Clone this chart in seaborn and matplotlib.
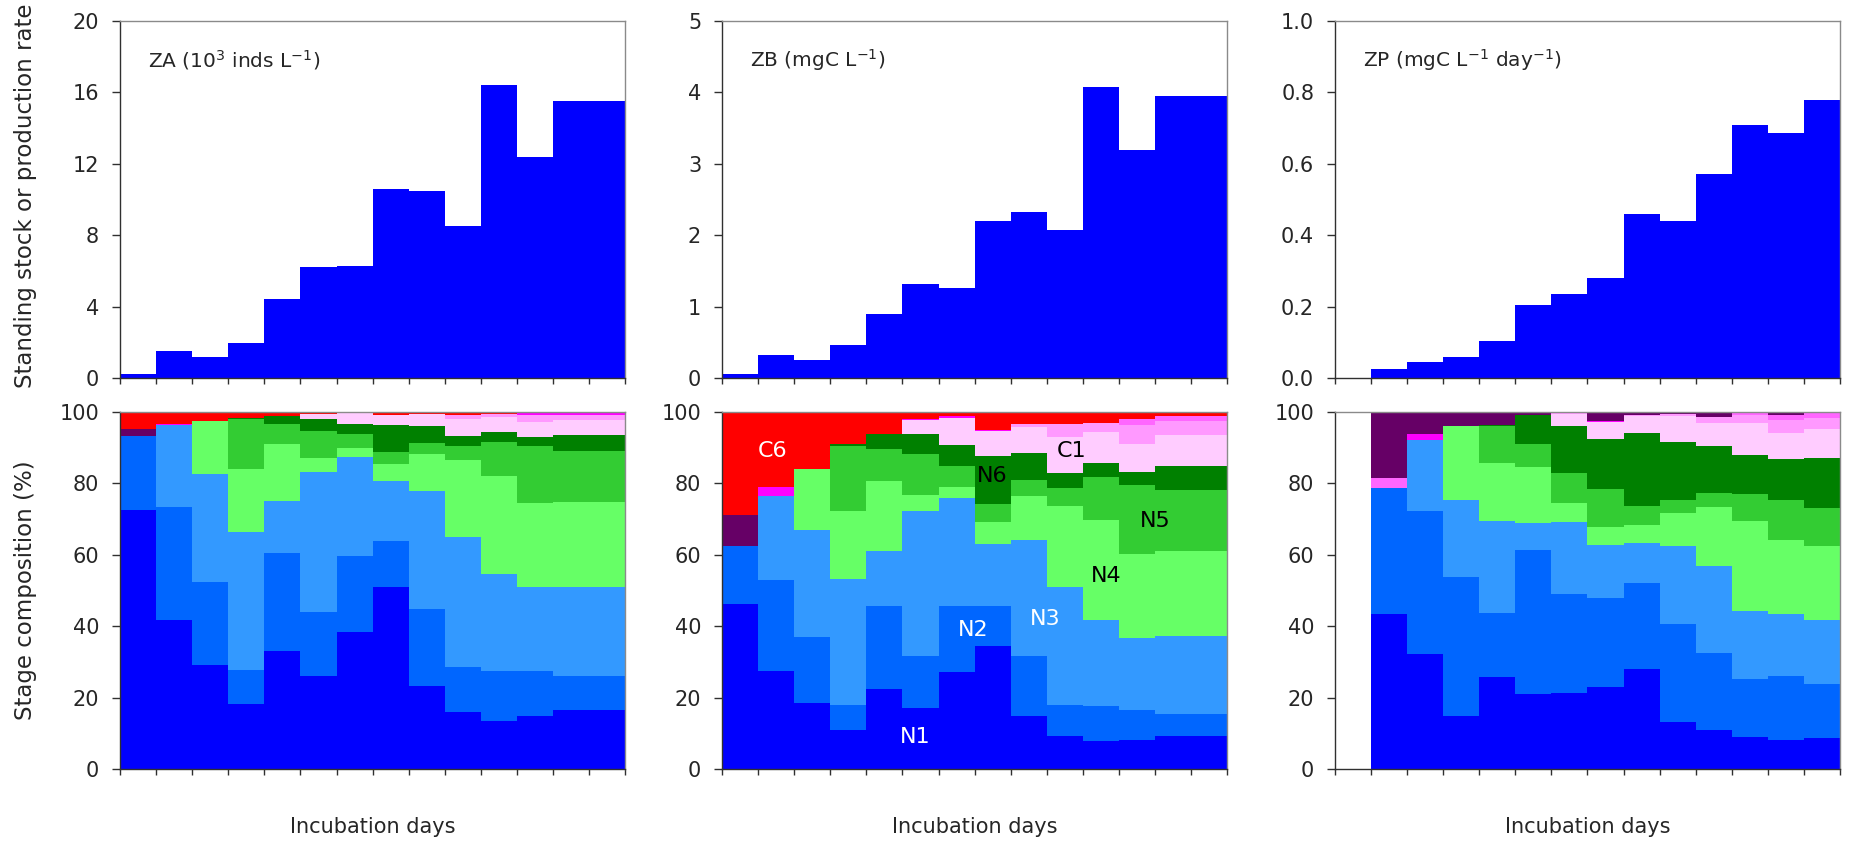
"""
Incubation experiment - standing stock / production and stage composition
"""
import numpy as np
import pandas as pd
import matplotlib
matplotlib.use('Agg')
import matplotlib.pyplot as plt
import seaborn as sns

# 14 incubation-day intervals
days = np.arange(14)
edges = np.arange(15)

za_total = [0.2, 1.5, 1.15, 1.95, 4.4, 6.2, 6.3, 10.6, 10.45, 8.5, 16.4, 12.4, 15.5, 15.5]
zb_total = [0.05, 0.32, 0.25, 0.46, 0.9, 1.32, 1.26, 2.2, 2.32, 2.07, 4.07, 3.2, 3.95, 3.95]
zp_total = [0, 0.025, 0.045, 0.06, 0.105, 0.205, 0.235, 0.28, 0.46, 0.44, 0.57, 0.71, 0.685, 0.78]

stages = ['N1', 'N2', 'N3', 'N4', 'N5', 'N6', 'C1', 'C2', 'C3', 'C4', 'C5', 'C6']
stage_colors = ['#0000FF', '#0066FF', '#3399FF', '#66FF66', '#33CC33', '#008000',
                '#FFCCFF', '#FF99FF', '#FF66FF', '#FF00FF', '#660066', '#FF0000']

# stage composition (%) per interval
za_comp = {
    'N1': [72.5, 41.8, 29.1, 18.3, 33.1, 26.0, 38.5, 50.9, 23.3, 16.1, 13.5, 14.9, 16.4, 16.4],
    'N2': [20.9, 31.6, 23.4, 9.5, 27.4, 17.9, 21.3, 13.1, 21.5, 12.4, 13.9, 12.5, 9.6, 9.6],
    'N3': [0, 22.9, 30.2, 38.5, 14.5, 39.4, 27.6, 16.6, 33.1, 36.4, 27.3, 23.5, 25.0, 25.0],
    'N4': [0, 0, 14.9, 17.7, 15.9, 3.8, 2.5, 4.8, 10.3, 21.6, 27.3, 23.6, 23.7, 23.7],
    'N5': [0, 0, 0, 13.9, 5.8, 7.7, 3.8, 3.4, 3.1, 4.1, 9.6, 16.1, 14.3, 14.3],
    'N6': [0, 0, 0, 0.3, 2.3, 3.1, 2.9, 7.5, 4.7, 2.8, 2.7, 2.4, 4.6, 4.6],
    'C1': [0, 0, 0, 0, 0, 1.5, 3.0, 2.9, 3.4, 4.5, 4.3, 4.1, 4.1, 4.1],
    'C2': [0, 0, 0, 0, 0, 0, 0, 0, 0, 1.4, 0.8, 2.2, 1.6, 1.6],
    'C3': [0, 0, 0, 0, 0, 0, 0, 0, 0, 0, 0, 0, 0, 0],
    'C4': [0, 0.4, 0, 0, 0, 0, 0, 0, 0, 0, 0, 0.3, 0.4, 0.4],
    'C5': [1.7, 0, 0, 0, 0, 0, 0, 0, 0, 0, 0, 0, 0, 0],
    'C6': [4.9, 3.3, 2.4, 1.8, 1.0, 0.6, 0.4, 0.8, 0.6, 0.7, 0.6, 0.4, 0.3, 0.3],
}
zb_comp = {
    'N1': [46.1, 27.4, 18.6, 11.0, 22.4, 17.2, 27.1, 34.5, 14.9, 9.3, 7.8, 8.2, 9.2, 9.2],
    'N2': [16.5, 25.6, 18.4, 6.8, 23.4, 14.5, 18.7, 11.1, 16.7, 8.7, 9.8, 8.4, 6.3, 6.3],
    'N3': [0, 23.4, 30.0, 35.4, 15.4, 40.7, 30.1, 17.5, 32.6, 32.9, 24.0, 20.1, 21.8, 21.8],
    'N4': [0, 0, 17.0, 19.0, 19.6, 4.4, 3.1, 6.0, 12.2, 22.7, 28.1, 23.5, 23.7, 23.7],
    'N5': [0, 0, 0, 18.2, 8.8, 11.4, 5.8, 5.2, 4.6, 5.1, 12.0, 19.4, 17.2, 17.2],
    'N6': [0, 0, 0, 0.6, 4.2, 5.6, 5.9, 13.3, 7.5, 4.2, 4.0, 3.6, 6.6, 6.6],
    'C1': [0, 0, 0, 0, 0, 4.0, 7.7, 7.1, 7.4, 10.0, 8.7, 7.9, 8.7, 8.7],
    'C2': [0, 0, 0, 0, 0, 0, 0, 0, 0.7, 3.8, 2.6, 5.2, 4.1, 4.1],
    'C3': [0, 0, 0, 0, 0, 0, 0, 0, 0, 0, 0, 1.8, 1.4, 1.4],
    'C4': [0, 2.6, 0, 0, 0, 0.3, 0.4, 0.3, 0, 0, 0, 0, 0, 0],
    'C5': [8.5, 0, 0, 0, 0, 0, 0, 0, 0, 0, 0, 0, 0, 0],
    'C6': [28.9, 21.0, 16.0, 9.0, 6.2, 1.9, 1.2, 5.0, 3.4, 3.3, 3.0, 1.9, 1.0, 1.0],
}
zp_comp = {
    'N1': [0, 43.5, 32.3, 14.8, 25.7, 20.9, 21.3, 22.9, 28.1, 13.1, 10.8, 9.1, 8.0, 8.6],
    'N2': [0, 35.3, 40.0, 38.9, 18.0, 40.4, 27.6, 25.0, 24.1, 27.6, 21.7, 16.2, 18.0, 15.3],
    'N3': [0, 0, 19.9, 21.7, 25.8, 7.5, 20.4, 14.8, 11.2, 21.8, 24.3, 19.0, 17.5, 17.8],
    'N4': [0, 0, 0, 20.6, 16.2, 15.8, 5.3, 5.2, 5.0, 9.1, 16.5, 25.2, 20.6, 20.8],
    'N5': [0, 0, 0, 0, 10.3, 6.5, 8.3, 10.5, 5.3, 3.8, 3.9, 7.6, 11.3, 10.5],
    'N6': [0, 0, 0, 0, 0.4, 8.0, 13.3, 13.9, 20.4, 16.1, 13.3, 10.9, 11.4, 14.2],
    'C1': [0, 0, 0, 0, 0, 0, 3.2, 4.8, 4.8, 7.5, 6.3, 9.0, 7.2, 8.0],
    'C2': [0, 0, 0, 0, 0, 0, 0.3, 0, 0.3, 0.4, 1.9, 2.3, 3.8, 3.2],
    'C3': [0, 2.7, 0, 0, 0, 0, 0, 0, 0, 0, 0, 0.3, 1.5, 1.3],
    'C4': [0, 0, 1.6, 0, 0, 0, 0, 0.4, 0, 0, 0, 0, 0, 0],
    'C5': [0, 18.5, 6.2, 4.0, 3.6, 0.9, 0.3, 2.5, 0.8, 0.6, 1.3, 0.4, 0.7, 0.3],
    'C6': [0, 0, 0, 0, 0, 0, 0, 0, 0, 0, 0, 0, 0, 0],
}

panel_titles = [r'ZA (10$^{3}$ inds L$^{-1}$)', r'ZB (mgC L$^{-1}$)',
                r'ZP (mgC L$^{-1}$ day$^{-1}$)']
top_limits = [20, 5, 1.0]
top_ticks = [np.arange(0, 21, 4), np.arange(0, 6, 1), np.arange(0, 1.01, 0.2)]

# labels written inside the ZB composition panel: (text, x, y, color)
zb_labels = [('C6', 1.4, 89, 'white'), ('N6', 7.5, 82, 'black'), ('C1', 9.7, 89, 'black'),
             ('N5', 12.0, 69.5, 'black'), ('N4', 10.65, 54, 'black'), ('N3', 8.95, 42, 'white'),
             ('N2', 6.95, 39, 'white'), ('N1', 5.35, 9, 'white')]


def comp_frame(comp):
    rows = []
    for s in stages:
        for d, v in zip(days, comp[s]):
            rows.append({'day': d + 0.5, 'stage': s, 'pct': v})
    return pd.DataFrame(rows)


def style_axes(ax):
    for side in ['left', 'bottom']:
        ax.spines[side].set_color('#303030')
    for side in ['top', 'right']:
        ax.spines[side].set_visible(True)
        ax.spines[side].set_color('#8a8a8a')
    for s in ax.spines.values():
        s.set_linewidth(1.0)
    ax.set_xlim(0, 14)
    ax.set_xticks(edges)
    ax.set_xticklabels([])
    ax.tick_params(axis='x', direction='out', length=4, width=1, color='#303030')
    ax.tick_params(axis='y', direction='out', length=6, width=1, color='#303030',
                   labelsize=15, pad=9)


sns.set_style('ticks')
plt.rcParams['font.family'] = ['DejaVu Sans']
plt.rcParams['mathtext.default'] = 'regular'

fig = plt.figure(figsize=(18.5, 8.46), dpi=100)
lefts = [0.0649, 0.3903, 0.7216]
width = 0.273

palette = dict(zip(stages, stage_colors))
hist_kw = dict(binwidth=1, binrange=(0, 14), element='step', fill=True, alpha=1,
               linewidth=0, edgecolor='none')

for i, (tot, comp) in enumerate(zip([za_total, zb_total, zp_total], [za_comp, zb_comp, zp_comp])):
    ax = fig.add_axes([lefts[i], 0.5532, width, 0.422])
    top_df = pd.DataFrame({'day': days + 0.5, 'value': tot})
    sns.histplot(data=top_df, x='day', weights='value', color='#0000FF', ax=ax, **hist_kw)
    style_axes(ax)
    ax.set_ylim(0, top_limits[i])
    ax.set_yticks(top_ticks[i])
    if i == 2:
        ax.set_yticklabels([f'{t:.1f}' for t in top_ticks[i]])
    ax.set_xlabel('')
    ax.set_ylabel('Standing stock or production rate' if i == 0 else '', fontsize=16.5)
    ax.yaxis.set_label_coords(-0.165, 0.51)
    ax.text(0.055, 0.89, panel_titles[i], transform=ax.transAxes, fontsize=14.5,
            ha='left', va='center')

    ax2 = fig.add_axes([lefts[i], 0.091, width, 0.422])
    sns.histplot(data=comp_frame(comp), x='day', weights='pct', hue='stage',
                 hue_order=stages[::-1], palette=palette, multiple='stack',
                 legend=False, ax=ax2, **hist_kw)
    style_axes(ax2)
    ax2.set_ylim(0, 100)
    ax2.set_yticks(np.arange(0, 101, 20))
    ax2.set_ylabel('Stage composition (%)' if i == 0 else '', fontsize=16.5)
    ax2.yaxis.set_label_coords(-0.165, 0.5)
    ax2.set_xlabel('Incubation days', fontsize=15)
    ax2.xaxis.set_label_coords(0.5, -0.135)
    if i == 1:
        for txt, x, y, c in zb_labels:
            ax2.text(x, y, txt, color=c, fontsize=16, ha='center', va='center')

fig.savefig('out.png', dpi=100)
plt.close(fig)
